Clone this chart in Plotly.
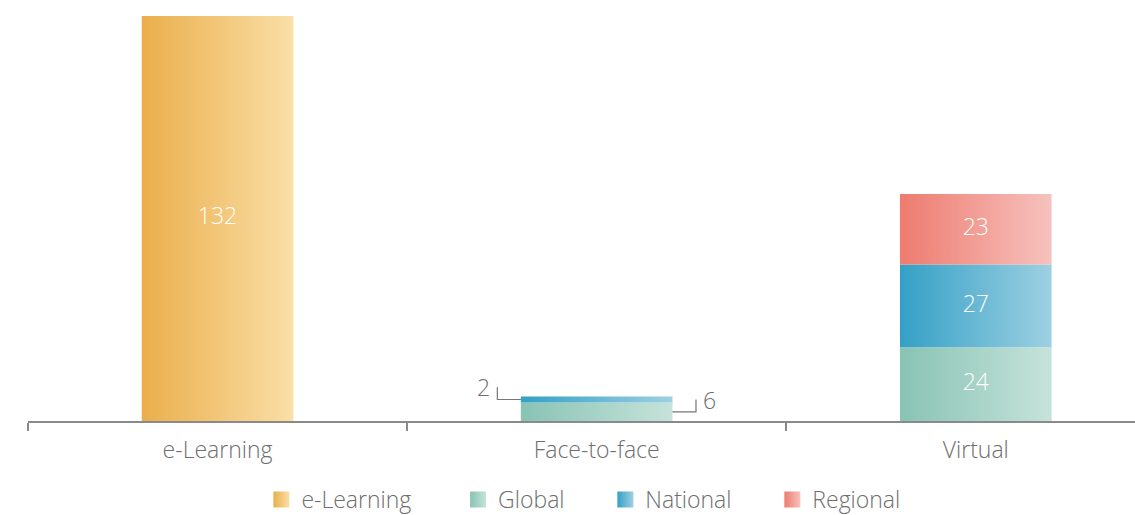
import plotly.graph_objects as go

# ---------------- data ----------------
categories = ["e-Learning", "Face-to-face", "Virtual"]
series_names = ["e-Learning", "Global", "National", "Regional"]
elearning_vals = [132, 0, 0]
global_vals = [0, 6, 24]
national_vals = [0, 2, 27]
regional_vals = [0, 0, 23]
series_values = [elearning_vals, global_vals, national_vals, regional_vals]

# ---------------- style ----------------
colors_left = ["#EAAE4B", "#88C3B3", "#34A0C6", "#EE7B6F"]
colors_right = ["#FADFA7", "#C6E3DB", "#9DD0E2", "#F6C2BD"]
callout_side = {"Global": "right", "National": "left"}
BAR_W = 0.4
MIN_INSIDE = 10
FONT = "Open Sans"
FS = 23
GREY = "#6e6e6e"

fig = go.Figure()

base = [0] * len(categories)
label_x, label_y, label_t = [], [], []
callouts = []
for name, vals, cl, cr in zip(series_names, series_values, colors_left, colors_right):
    for i, v in enumerate(vals):
        if v <= 0:
            continue
        x0, x1 = i - BAR_W / 2, i + BAR_W / 2
        y0, y1 = base[i], base[i] + v
        fig.add_trace(go.Scatter(
            x=[x0, x1, x1, x0, x0], y=[y0, y0, y1, y1, y0],
            fill="toself", mode="none",
            fillgradient=dict(type="horizontal", colorscale=[[0, cl], [1, cr]]),
            showlegend=False, hoverinfo="skip",
        ))
        mid = (y0 + y1) / 2
        if v >= MIN_INSIDE:
            label_x.append(i)
            label_y.append(mid)
            label_t.append(str(v))
        else:
            callouts.append((i, mid, v, callout_side.get(name, "right")))
        base[i] = y1

# inside labels
fig.add_trace(go.Scatter(
    x=label_x, y=label_y, text=label_t, mode="text",
    textfont=dict(family=FONT, size=FS, color="white", weight=300),
    showlegend=False, hoverinfo="skip",
))

# callout brackets for thin segments
DX = 0.062
DY = 4.0
for i, mid, v, side in callouts:
    sign = -1 if side == "left" else 1
    edge = i + sign * BAR_W / 2
    xb = edge + sign * DX
    fig.add_trace(go.Scatter(x=[edge, xb, xb], y=[mid, mid, mid + DY], mode="lines",
                             line=dict(color="#777", width=1.2),
                             showlegend=False, hoverinfo="skip"))
    fig.add_annotation(x=xb, y=mid + DY, text=str(v), showarrow=False,
                       xanchor="right" if side == "left" else "left",
                       yanchor="middle", xshift=5 * sign,
                       font=dict(family=FONT, size=FS, color=GREY, weight=300))

# legend entries
pads = ["\u00a0" * 7, "\u00a0" * 6, "\u00a0" * 6, ""]
for name, cl, cr, pad in zip(series_names, colors_left, colors_right, pads):
    fig.add_trace(go.Scatter(
        x=[None], y=[None], mode="markers", name=name + pad,
        marker=dict(symbol="square", size=22, color=cl,
                    gradient=dict(type="horizontal", color=cr)),
    ))

fig.update_layout(
    width=1135, height=515,
    margin=dict(l=28, r=0, t=16, b=94),
    paper_bgcolor="white", plot_bgcolor="white",
    font=dict(family=FONT, color=GREY, size=FS, weight=300),
    showlegend=True,
    legend=dict(orientation="h", xref="container", yref="container",
                x=0.514, xanchor="center", y=0.03, yanchor="middle",
                font=dict(family=FONT, size=FS, color=GREY, weight=300),
                traceorder="normal"),
    xaxis=dict(
        range=[-0.5, 2.42], tickmode="array", tickvals=list(range(len(categories))),
        ticktext=categories, showgrid=False, zeroline=False,
        showline=True, linecolor="#8a8a8a", linewidth=1.5,
        ticks="outside", ticklen=8, tickcolor="rgba(0,0,0,0)",
        tickfont=dict(family=FONT, size=FS, color=GREY, weight=300),
        minor=dict(tickmode="linear", tick0=-0.5, dtick=1, ticks="outside",
                   ticklen=8, tickcolor="#8a8a8a", tickwidth=1.5, showgrid=False),
        fixedrange=True,
    ),
    yaxis=dict(range=[0, 132], visible=False, showgrid=False, zeroline=False, fixedrange=True),
)

fig.write_html("out.html", config={"displayModeBar": False},
               post_script="document.body.style.margin='0';document.body.style.overflow='hidden';")
